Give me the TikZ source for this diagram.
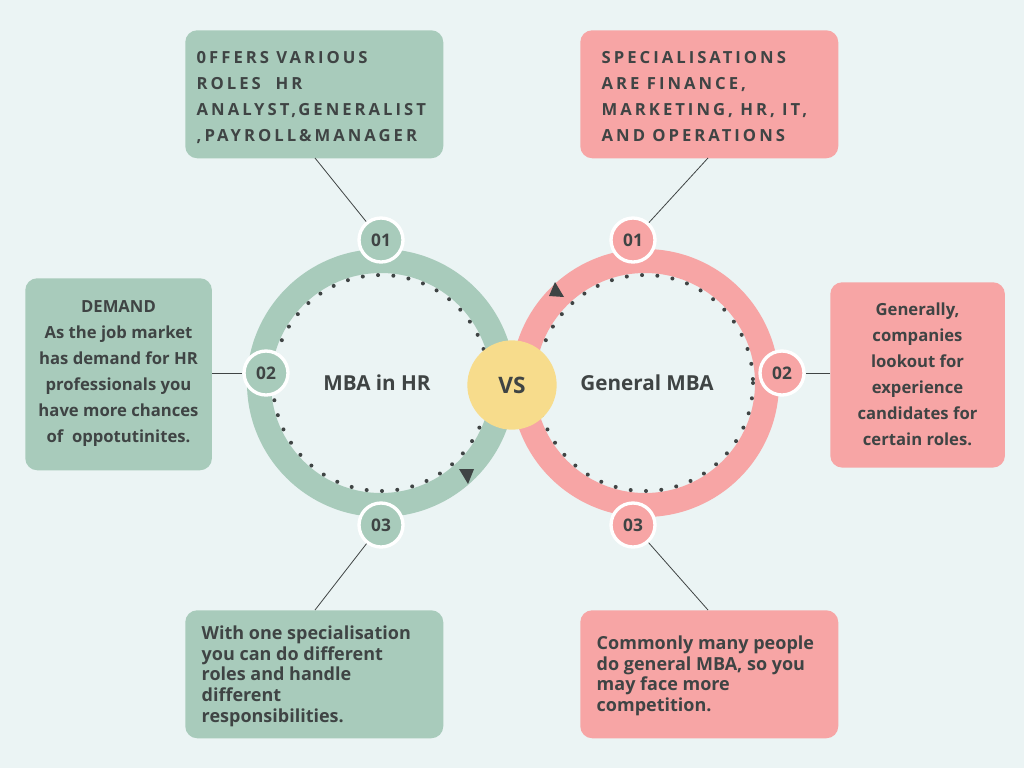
\documentclass[tikz,border=0pt]{standalone}
\usepackage{fontspec}
\setmainfont{Open Sans}
\definecolor{bg}{HTML}{EBF4F4}
\definecolor{grn}{HTML}{A8CBBB}
\definecolor{pnk}{HTML}{F7A5A5}
\definecolor{ylw}{HTML}{F7DC8C}
\definecolor{txt}{HTML}{3F4444}
\begin{document}
\begin{tikzpicture}[x=0.75pt,y=-0.75pt,
  every node/.style={text=txt,font=\bfseries},
  gbox/.style={fill=grn,rounded corners=9pt,inner sep=0pt},
  pbox/.style={fill=pnk,rounded corners=9pt,inner sep=0pt},
  num/.style={circle,draw=white,line width=2.5pt,minimum size=33pt,inner sep=0pt,font=\bfseries\fontsize{13}{15}\selectfont},
  conn/.style={draw=txt,line width=0.6pt},
  dots/.style={draw=txt,line width=3pt,dash pattern=on 0pt off 11.5pt,line cap=round},
  spaced/.style={font=\bfseries\fontsize{12.5}{19.5}\selectfont\addfontfeatures{LetterSpace=18}},
]
\fill[bg] (0,0) rectangle (1024,768);
\useasboundingbox (0,0) rectangle (1024,768);
% rings
\draw[grn,line width=18pt] (381,383) circle[radius=122];
\draw[pnk,line width=18pt] (645,383) circle[radius=122];
\draw[dots] (381,383) circle[radius=108];
\draw[dots] (645,383) circle[radius=108];
\fill[txt] (459,469) -- (474,469) -- (468,484) -- cycle;
\fill[txt] (549,296) -- (555,282) -- (564,297) -- cycle;
\node[circle,fill=ylw,minimum size=67pt,inner sep=0pt,font=\bfseries\fontsize{17}{20}\selectfont] (vs) at (512,385) {VS};
\node[font=\bfseries\fontsize{15.5}{18}\selectfont] (hr) at (377,383) {MBA in HR};
\node[font=\bfseries\fontsize{15.5}{18}\selectfont] (gm) at (647,383) {General MBA};
% number circles
\node[num,fill=grn] (g1) at (381,240) {01};
\node[num,fill=grn] (g2) at (266,373) {02};
\node[num,fill=grn] (g3) at (381,525) {03};
\node[num,fill=pnk] (p1) at (633,240) {01};
\node[num,fill=pnk] (p2) at (782,373) {02};
\node[num,fill=pnk] (p3) at (633,525) {03};
% boxes
\node[gbox,minimum width=193.5pt,minimum height=96pt,anchor=north west] (gt) at (185,30) {};
\node[spaced,anchor=north west,align=left] at (192,47) {0FFERS VARIOUS\\ROLES\ \ HR\\ANALYST,GENERALIST\\,PAYROLL\&MANAGER};
\node[pbox,minimum width=193.5pt,minimum height=96pt,anchor=north west] (pt) at (580,30) {};
\node[spaced,anchor=north west,align=left] at (597,47) {SPECIALISATIONS\\ARE FINANCE,\\MARKETING, HR, IT,\\AND OPERATIONS};
\node[gbox,minimum width=140pt,minimum height=144pt,anchor=north west] (gl) at (25,278) {};
\node[align=center,font=\bfseries\fontsize{12.5}{19.5}\selectfont] at (118.5,374) {DEMAND\\As the job market\\has demand for HR\\professionals you\\have more chances\\of\ \ oppotutinites.};
\node[pbox,minimum width=131pt,minimum height=139pt,anchor=north west] (pr) at (830,282) {};
\node[align=center,font=\bfseries\fontsize{12.5}{19.5}\selectfont] at (917.5,374) {Generally,\\companies\\lookout for\\experience\\candidates for\\certain roles.};
\node[gbox,minimum width=193.5pt,minimum height=96pt,anchor=north west] (gb) at (185,610) {};
\node[anchor=north west,align=left,font=\bfseries\fontsize{13.5}{15.5}\selectfont] at (197,621) {With one specialisation\\you can do different\\roles and handle\\different\\responsibilities.};
\node[pbox,minimum width=193.5pt,minimum height=96pt,anchor=north west] (pb) at (580,610) {};
\node[anchor=north west,align=left,font=\bfseries\fontsize{13.5}{15.5}\selectfont] at (592,631) {Commonly many people\\do general MBA, so you\\may face more\\competition.};
% connectors
\coordinate (a1) at (315,158); \coordinate (a2) at (708,158);
\coordinate (a3) at (315,610); \coordinate (a4) at (708,610);
\coordinate (a5) at (212,373); \coordinate (a6) at (830,373);
\draw[conn] (a1) -- (g1); \draw[conn] (a2) -- (p1);
\draw[conn] (a3) -- (g3); \draw[conn] (a4) -- (p3);
\draw[conn] (a5) -- (g2); \draw[conn] (a6) -- (p2);
\end{tikzpicture}
\end{document}
